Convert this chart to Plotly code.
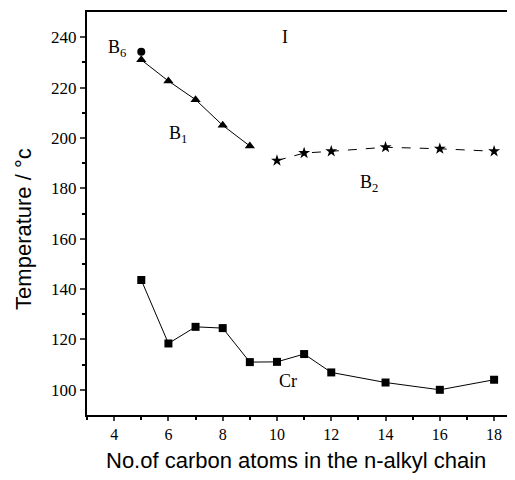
import plotly.graph_objects as go

b1_x = [5, 6, 7, 8, 9]
b1_y = [231, 222.6, 215.2, 205, 196.8]
b6_x = [5]
b6_y = [234.2]
b2_x = [10, 11, 12, 14, 16, 18]
b2_y = [191, 194, 194.7, 196.3, 195.7, 194.7]
cr_x = [5, 6, 7, 8, 9, 10, 11, 12, 14, 16, 18]
cr_y = [143.6, 118.4, 125, 124.5, 111, 111.1, 114.2, 106.9, 102.9, 100, 104]

x_ticks = [4, 6, 8, 10, 12, 14, 16, 18]
y_ticks = [100, 120, 140, 160, 180, 200, 220, 240]

labels = [
    ("B<sub>6</sub>", 4.1, 235.5),
    ("I", 10.28, 240),
    ("B<sub>1</sub>", 6.35, 201.5),
    ("B<sub>2</sub>", 13.4, 182),
    ("Cr", 10.39, 103.6),
]

fig = go.Figure()
line_style = dict(color="black", width=1)
fig.add_trace(go.Scatter(x=b1_x, y=b1_y, mode="lines+markers", line=line_style,
                         marker=dict(symbol="triangle-up", size=9, color="black")))
fig.add_trace(go.Scatter(x=b2_x, y=b2_y, mode="lines+markers",
                         line=dict(color="black", width=1, dash="dash"),
                         marker=dict(symbol="star", size=9, color="black")))
fig.add_trace(go.Scatter(x=cr_x, y=cr_y, mode="lines+markers", line=line_style,
                         marker=dict(symbol="square", size=8, color="black")))
fig.add_trace(go.Scatter(x=b6_x, y=b6_y, mode="markers",
                         marker=dict(symbol="circle", size=8, color="black")))

for txt, x, y in labels:
    fig.add_annotation(x=x, y=y, text=txt, showarrow=False,
                       font=dict(family="Liberation Serif", size=18, color="black"))

fig.add_annotation(xref="paper", yref="paper", x=-0.147, y=0.462, text="Temperature / °c",
                   textangle=-90, showarrow=False, xanchor="center", yanchor="middle",
                   font=dict(family="Liberation Sans", size=22, color="black"))
fig.add_annotation(xref="paper", yref="paper", x=0.488, y=-0.114,
                   text="No.of carbon atoms in the n-alkyl chain", showarrow=False,
                   xanchor="center", yanchor="middle",
                   font=dict(family="Liberation Sans", size=22, color="black"))

fig.update_layout(
    width=515, height=480,
    margin=dict(l=79, r=8, t=4, b=73),
    plot_bgcolor="white", paper_bgcolor="white",
    showlegend=False,
    font=dict(family="Liberation Serif", size=14, color="black"),
)
fig.update_xaxes(
    range=[3, 18.77], tickvals=x_ticks, ticks="outside", ticklen=4, tickwidth=1.5,
    showline=True, linecolor="black", linewidth=2, mirror=True, showgrid=False, zeroline=False,
    minor=dict(tickvals=[3, 5, 7, 9, 11, 13, 15, 17], ticks="outside", ticklen=3, tickcolor="black"),
    tickfont=dict(family="Liberation Serif", size=16), automargin=False,
)
fig.update_yaxes(
    range=[90, 250], tickvals=y_ticks, ticks="outside", ticklen=5, tickwidth=1.5,
    showline=True, linecolor="black", linewidth=2, mirror=True, showgrid=False, zeroline=False,
    minor=dict(tickvals=[110, 130, 150, 170, 190, 210, 230], ticks="outside", ticklen=3, tickcolor="black"),
    tickfont=dict(family="Liberation Serif", size=17), automargin=False,
)
fig.write_html("out.html")
